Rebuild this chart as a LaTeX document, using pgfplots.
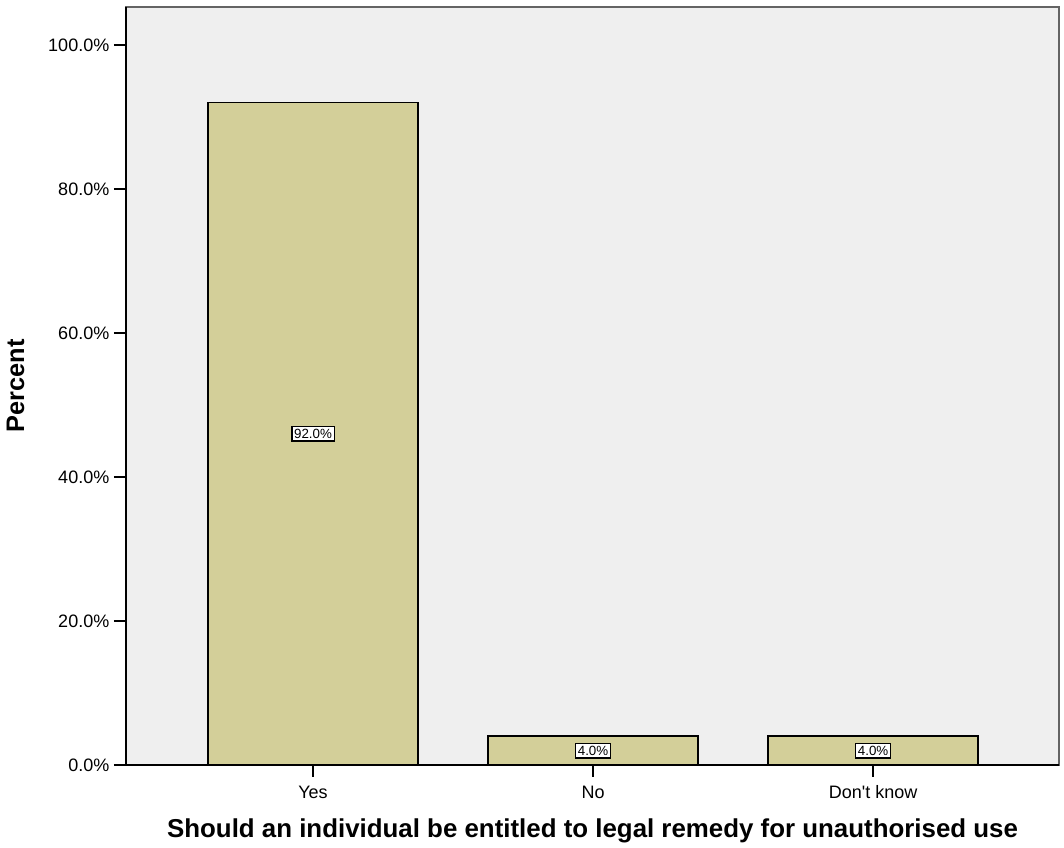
\documentclass[border=0pt]{standalone}
\usepackage{pgfplots}
\pgfplotsset{compat=1.18}
\usepackage{fontspec}
\setmainfont{Liberation Sans}[Ligatures=TeXOff]
\definecolor{barfill}{RGB}{211,207,153}
\definecolor{bgfill}{RGB}{239,239,239}
\definecolor{framegray}{RGB}{100,100,100}
\begin{document}
\begin{tikzpicture}[x=0.75pt,y=0.75pt]
\useasboundingbox (-126,-83) rectangle (938,765);
\begin{axis}[
  at={(0,0)}, anchor=south west,
  scale only axis,
  width=699.75pt, height=568.5pt,
  xmin=-0.668, xmax=2.664,
  ymin=0, ymax=105.28,
  axis background/.style={fill=bgfill},
  axis line style={draw=framegray, line width=1.5pt},
  xtick={0,1,2},
  xticklabels={Yes,No,Don't know},
  ytick={0,20,40,60,80,100},
  yticklabels={0.0\%,20.0\%,40.0\%,60.0\%,80.0\%,100.0\%},
  tick align=outside,
  tick pos=left,
  major tick length=9pt,
  tick style={black, line width=1.2pt},
  ticklabel style={font=\fontsize{13.5}{16}\selectfont},
  xticklabel style={yshift=-3pt},
  yticklabel style={xshift=0pt},
  xlabel={\textbf{Should an individual be entitled to legal remedy for unauthorised use}},
  ylabel={\textbf{Percent}},
  xlabel style={font=\fontsize{19.4}{22}\selectfont, yshift=-8pt},
  ylabel style={font=\fontsize{19}{22}\selectfont, yshift=11pt},
  clip=false,
  after end axis/.code={
    \draw[black, line width=1.5pt] (rel axis cs:0,1) -- (rel axis cs:0,0) -- (rel axis cs:1,0);
  },
]
\addplot[ybar, bar width=0.75, fill=barfill, draw=black, line width=1.2pt]
  coordinates {(0,92.0) (1,4.0) (2,4.0)};
\addplot[draw=none, mark=none,
  nodes near coords, point meta=explicit symbolic,
  every node near coord/.style={anchor=center, draw=black, line width=1.2pt, fill=white,
    inner sep=1.8pt, font=\fontsize{10}{12}\selectfont}]
  coordinates {(0,46.0)[92.0\%] (1,2.0)[4.0\%] (2,2.0)[4.0\%]};
\end{axis}
\end{tikzpicture}
\end{document}
